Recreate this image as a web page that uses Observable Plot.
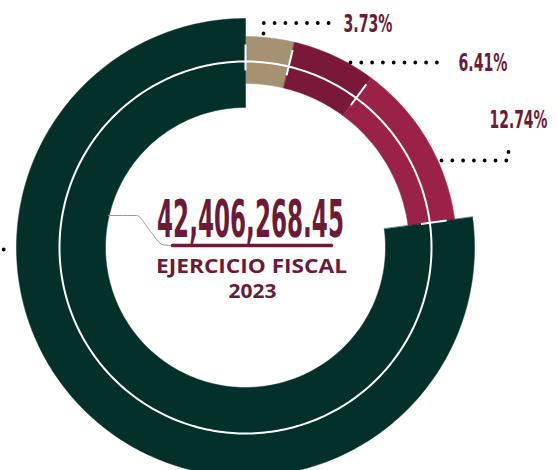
<!DOCTYPE html>
<html><head><meta charset="utf-8">
<script src="https://cdn.jsdelivr.net/npm/d3@7"></script>
<script src="https://cdn.jsdelivr.net/npm/@observablehq/plot@0.6"></script>
<style>html,body{margin:0;padding:0;background:#fff;} #chart svg{display:block}</style>
</head><body><div id="chart"></div>
<script>
// ---- data ----
const shares = [3.73, 6.41, 12.74, 77.12];
const shareLabels = ["3.73%", "6.41%", "12.74%", "77.12%"];
const totalLabel = "42,406,268.45";
const subtitleLabel = "EJERCICIO FISCAL";
const yearLabel = "2023";

// ---- styles / layout ----
const colors = ["#a69172", "#7a1839", "#9b2247", "#04302a"];
const textColor = "#6b1b37";
const CX = 245, CY = 247;
const smallRing = {outer: 211, inner: 164};
const bigRing = {outer: 229, inner: 140};
const ringOf = [smallRing, smallRing, smallRing, bigRing];
const whiteR = 186;
const condensed = "'Liberation Sans Narrow','DejaVu Sans Condensed','Arial Narrow',sans-serif";
const geometric = "'Open Sans','Lato',sans-serif";
// leader routes (annotation layout)
const leaderRoutes = [
  [[263, 33], [263, 22.5], [332, 22.5]],
  [[350, 62], [447, 62]],
  [[441, 160], [508, 160], [508, 141]],
  [[-40, 249], [8, 249]]
];
const labelEnds = [[392, 23], [507, 62], [547, 119]];
const textWidths = {"3.73%": 49, "6.41%": 49, "12.74%": 58};

const TAU = Math.PI * 2;
const polar = (a, r) => ({x: CX + r * Math.sin(a), y: CY - r * Math.cos(a)});

// arcs from shares
let cum = 0;
const arcs = shares.map((v, i) => {
  const a0 = cum / 100 * TAU; cum += v; const a1 = cum / 100 * TAU;
  const {outer, inner} = ringOf[i];
  const n = Math.max(8, Math.ceil((a1 - a0) / TAU * 360));
  const pts = [];
  for (let k = 0; k <= n; k++) pts.push(polar(a0 + (a1 - a0) * k / n, outer));
  for (let k = n; k >= 0; k--) pts.push(polar(a0 + (a1 - a0) * k / n, inner));
  return {pts, color: colors[i], a0, a1};
});
const circlePts = d3.range(0, 361).map(d => polar(d / 360 * TAU, whiteR));
const ticks = arcs.map(a => {
  const p = polar(a.a0, 177), q = polar(a.a0, 203);
  return {x1: p.x, y1: p.y, x2: q.x, y2: q.y};
});

const marks = [];
arcs.forEach(a => marks.push(Plot.line(a.pts, {x: "x", y: "y", fill: a.color, stroke: a.color, strokeWidth: 0.5, curve: "linear-closed"})));
marks.push(Plot.line(circlePts, {x: "x", y: "y", stroke: "white", strokeWidth: 2, curve: "linear-closed"}));
marks.push(Plot.link(ticks, {x1: "x1", y1: "y1", x2: "x2", y2: "y2", stroke: "white", strokeWidth: 2}));
leaderRoutes.forEach(r => marks.push(Plot.line(r.map(([x, y]) => ({x, y})), {x: "x", y: "y", stroke: "#000", strokeWidth: 3.8, strokeDasharray: "0 10.8", strokeLinecap: "round"})));
const pctData = labelEnds.map(([x, y], i) => ({x, y, t: shareLabels[i]}));
marks.push(Plot.text(pctData, {x: "x", y: "y", text: "t", textAnchor: "end", fill: textColor, fontSize: 25, fontWeight: "bold", fontFamily: condensed}));
// center annotation
marks.push(Plot.line([{x: 108, y: 215}, {x: 136, y: 215}, {x: 150, y: 231}, {x: 163, y: 244.5}, {x: 172, y: 245}], {x: "x", y: "y", stroke: "#b98a99", strokeWidth: 1, curve: "monotone-x"}));
marks.push(Plot.line([{x: 172, y: 245}, {x: 331, y: 245}], {x: "x", y: "y", stroke: textColor, strokeWidth: 3.5}));
marks.push(Plot.text([{x: 250, y: 220.5, t: totalLabel}], {x: "x", y: "y", text: "t", fill: textColor, fontSize: 51, fontWeight: "bold", fontFamily: condensed}));
marks.push(Plot.text([{x: 251, y: 266, t: subtitleLabel}, {x: 252, y: 291.5, t: yearLabel}], {x: "x", y: "y", text: "t", fill: textColor, fontSize: 20, fontWeight: "bold", fontFamily: geometric}));

const svg = Plot.plot({
  width: 557, height: 470, margin: 0,
  x: {domain: [0, 557], axis: null},
  y: {domain: [0, 470], reverse: true, axis: null},
  marks
});
document.getElementById("chart").appendChild(svg);
// horizontally squeeze texts to the reference widths (condensed display face)
const fit = Object.assign({[totalLabel]: 187, [subtitleLabel]: 191, [yearLabel]: 48}, textWidths);
d3.select(svg).selectAll("text").each(function () {
  const w = fit[this.textContent];
  if (!w) return;
  const bb = this.getBBox();
  if (!bb.width) return;
  const s = w / bb.width;
  const anchor = getComputedStyle(this).textAnchor;
  const ax = anchor === "end" ? bb.x + bb.width : anchor === "start" ? bb.x : bb.x + bb.width / 2;
  const t = this.getAttribute("transform") || "";
  this.setAttribute("transform", `${t} translate(${ax},0) scale(${s},1) translate(${-ax},0)`);
});
</script>
</body></html>
